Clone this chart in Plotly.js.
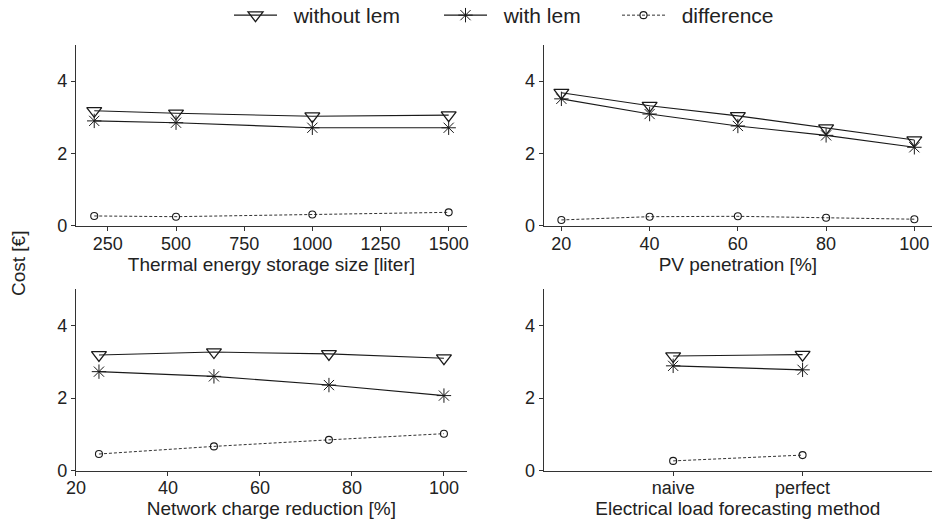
<!DOCTYPE html>
<html>
<head>
<meta charset="utf-8">
<script src="https://cdn.plot.ly/plotly-3.0.1.min.js"></script>
<style>
  html, body { margin: 0; padding: 0; background: #fff; }
  #chart { width: 932px; height: 522px; }
</style>
</head>
<body>
<div id="chart"></div>
<script>
// Cost per scenario sweep: without / with local energy market, and their difference

// Thermal energy storage size [liter]
const storageSize = [200, 500, 1000, 1500];
const storageWithout = [3.18, 3.11, 3.03, 3.06];
const storageWith = [2.90, 2.85, 2.71, 2.71];
const storageDiff = [0.27, 0.25, 0.31, 0.37];

// PV penetration [%]
const pvPenetration = [20, 40, 60, 80, 100];
const pvWithout = [3.68, 3.32, 3.04, 2.70, 2.37];
const pvWith = [3.51, 3.09, 2.76, 2.50, 2.17];
const pvDiff = [0.16, 0.25, 0.26, 0.22, 0.18];

// Network charge reduction [%]
const chargeReduction = [25, 50, 75, 100];
const chargeWithout = [3.19, 3.27, 3.22, 3.10];
const chargeWith = [2.73, 2.60, 2.36, 2.07];
const chargeDiff = [0.46, 0.67, 0.85, 1.02];

// Electrical load forecasting method
const forecastMethod = ['naive', 'perfect'];
const forecastWithout = [3.16, 3.20];
const forecastWith = [2.89, 2.78];
const forecastDiff = [0.27, 0.43];

const seriesNames = ['without lem', 'with lem', 'difference'];
const yTicks = [0, 2, 4];

const FONT = 'Liberation Sans, Arial, Helvetica, sans-serif';
const INK = '#1a1a1a';
const AXIS = '#333333';
const GAP = '\u00a0\u00a0'; // extra room between legend symbol and label

const styles = [
  {
    line: { color: INK, width: 1.1 },
    marker: { symbol: 'triangle-down-open', size: 13, color: INK, line: { width: 1.3, color: INK } }
  },
  {
    line: { color: INK, width: 1.1 },
    marker: { symbol: 'asterisk-open', size: 12, color: INK, line: { width: 1, color: INK } }
  },
  {
    line: { color: INK, width: 0.9, dash: '3px,2px' },
    marker: { symbol: 'circle-open', size: 7, color: INK, line: { width: 1.1, color: INK } }
  }
];

const panels = [
  { x: storageSize, ys: [storageWithout, storageWith, storageDiff], xa: 'x', ya: 'y' },
  { x: pvPenetration, ys: [pvWithout, pvWith, pvDiff], xa: 'x2', ya: 'y2' },
  { x: chargeReduction, ys: [chargeWithout, chargeWith, chargeDiff], xa: 'x3', ya: 'y3' },
  { x: forecastMethod, ys: [forecastWithout, forecastWith, forecastDiff], xa: 'x4', ya: 'y4' }
];

const legendIds = ['legend', 'legend2', 'legend3'];
const traces = [];
panels.forEach((p, pi) => {
  // difference first so the solid series sit on top
  [2, 1, 0].forEach(si => {
    traces.push({
      type: 'scatter',
      mode: 'lines+markers',
      x: p.x,
      y: p.ys[si],
      xaxis: p.xa,
      yaxis: p.ya,
      name: GAP + seriesNames[si],
      legend: legendIds[si],
      showlegend: pi === 0,
      line: styles[si].line,
      marker: styles[si].marker,
      cliponaxis: false
    });
  });
});

const axisBase = {
  showline: true, linecolor: AXIS, linewidth: 1.2,
  ticks: 'outside', ticklen: 4, tickwidth: 1, tickcolor: AXIS,
  showgrid: false, zeroline: false,
  tickfont: { family: FONT, size: 18, color: '#222' },
  automargin: false
};

function xAxis(domain, anchor, title, extra) {
  return Object.assign({}, axisBase, {
    domain: domain, anchor: anchor, ticklabelstandoff: -3,
    title: { text: title, font: { family: FONT, size: 19, color: '#222' }, standoff: 1 }
  }, extra);
}
function yAxis(domain, anchor) {
  return Object.assign({}, axisBase, {
    domain: domain, anchor: anchor, range: [0, 5],
    tickmode: 'array', tickvals: yTicks, ticktext: yTicks.map(String)
  });
}

const colLeft = [0.0815, 0.501], colRight = [0.5834, 1.0];
const rowTop = [0.5676, 0.9138], rowBottom = [0.0983, 0.4458];

function legendAt(px) {
  return {
    orientation: 'h', x: px / 932, xanchor: 'left', y: 1 - 15.5 / 522, yanchor: 'middle',
    font: { family: FONT, size: 21, color: '#222' }, itemwidth: 43,
    bgcolor: 'rgba(0,0,0,0)', borderwidth: 0
  };
}

const layout = {
  width: 932, height: 522,
  margin: { l: 0, r: 0, t: 0, b: 0, autoexpand: false },
  paper_bgcolor: '#fff', plot_bgcolor: '#fff',
  font: { family: FONT, size: 19, color: '#222' },
  xaxis: xAxis(colLeft, 'y', 'Thermal energy storage size [liter]', { range: [133, 1567], tickvals: [250, 500, 750, 1000, 1250, 1500] }),
  yaxis: yAxis(rowTop, 'x'),
  xaxis2: xAxis(colRight, 'y2', 'PV penetration [%]', { range: [16, 104], tickvals: [20, 40, 60, 80, 100] }),
  yaxis2: yAxis(rowTop, 'x2'),
  xaxis3: xAxis(colLeft, 'y3', 'Network charge reduction [%]', { range: [20, 105], tickvals: [20, 40, 60, 80, 100] }),
  yaxis3: yAxis(rowBottom, 'x3'),
  xaxis4: xAxis(colRight, 'y4', 'Electrical load forecasting method', { type: 'category', categoryarray: forecastMethod, range: [-1, 2] }),
  yaxis4: yAxis(rowBottom, 'x4'),
  legend: legendAt(229),
  legend2: legendAt(439),
  legend3: legendAt(617),
  annotations: [{
    text: 'Cost [€]', textangle: -90, xref: 'paper', yref: 'paper',
    x: 18 / 932, y: 1 - 264 / 522, xanchor: 'center', yanchor: 'middle',
    showarrow: false, font: { family: FONT, size: 19, color: '#222' }
  }]
};

Plotly.newPlot('chart', traces, layout, { displayModeBar: false, staticPlot: true });
</script>
</body>
</html>
